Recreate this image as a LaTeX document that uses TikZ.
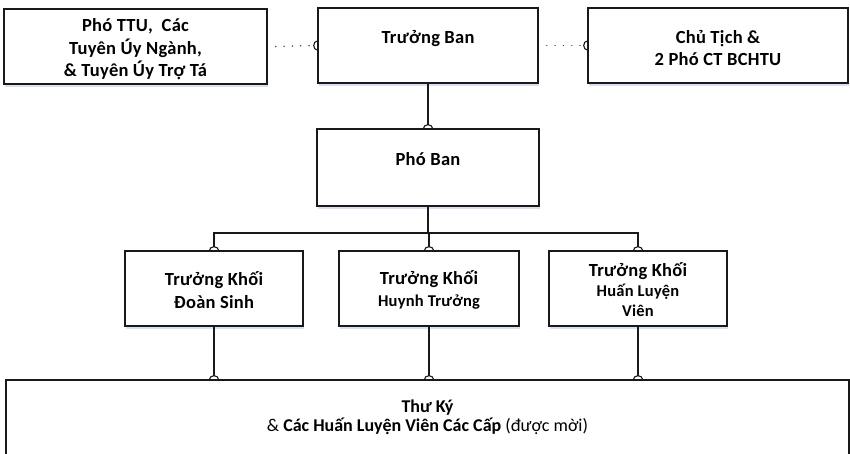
\documentclass[tikz,border=0pt]{standalone}
\usepackage{fontspec}
\setmainfont{Carlito}
\usetikzlibrary{shadows}
\definecolor{shadowblue}{RGB}{205,218,236}
\definecolor{linecol}{RGB}{25,25,25}
\newcommand\semitop[1]{\draw[tipline] ([xshift=-4.5pt]#1) arc[start angle=180,end angle=0,x radius=4.5pt,y radius=3.5pt];}
\newcommand\semileft[1]{\draw[tipline] ([yshift=-4.5pt]#1) arc[start angle=270,end angle=90,x radius=3.5pt,y radius=4.5pt];}
\newcommand\subline{\fontsize{16.5}{20}\selectfont}
\begin{document}
\begin{tikzpicture}[x=1pt,y=-1pt,
  box/.style={draw=linecol, line width=1.6pt, fill=white, rectangle, inner sep=0pt,
    drop shadow={shadow xshift=0.8pt, shadow yshift=-2.5pt, fill=shadowblue, opacity=0.8}},
  lbl/.style={font=\bfseries\fontsize{18.5}{22.5}\selectfont\addfontfeature{LetterSpace=1.5}, align=center, inner sep=0pt, text=black},
  conn/.style={line width=1.6pt, draw=linecol},
  tipline/.style={line width=1.1pt, draw=linecol},
  dots/.style={line width=1.7pt, draw=black!70, dash pattern=on 0.01pt off 8.3pt, line cap=round}]
\useasboundingbox (0,0) rectangle (850,453);
\clip (0,0) rectangle (850,453);
% boxes
\node[box, minimum width=263pt, minimum height=75pt] (b1) at (135.5,46.5) {};
\node[box, minimum width=220pt, minimum height=75pt] (b2) at (428,45.5) {};
\node[box, minimum width=260pt, minimum height=75pt] (b3) at (718,45.5) {};
\node[box, minimum width=222pt, minimum height=77pt] (pb) at (428,167.5) {};
\node[box, minimum width=178pt, minimum height=75pt] (k1) at (214,288.5) {};
\node[box, minimum width=180pt, minimum height=75pt] (k2) at (429,288.5) {};
\node[box, minimum width=178pt, minimum height=75pt] (k3) at (638,288.5) {};
\node[box, minimum width=843pt, minimum height=110pt] (bt) at (427.5,435) {};
% texts
\node[lbl] (t1) at (135.5,49.5) {Phó TTU,\ \ Các\\Tuyên Úy Ngành,\\\& Tuyên Úy Trợ Tá};
\node[lbl] (t2) at (428,38.5) {Trưởng Ban};
\node[lbl] (t3) at (718,48) {Chủ Tịch \&\\2 Phó CT BCHTU};
\node[lbl] (tpb) at (428,159) {Phó Ban};
\node[lbl] (tk1) at (214,290) {Trưởng Khối\\Đoàn Sinh};
\node[lbl] (tk2) at (429,290) {Trưởng Khối\\{\subline Huynh Trưởng}};
\node[lbl, font=\bfseries\fontsize{18.5}{20}\selectfont\addfontfeature{LetterSpace=1.5}] (tk3) at (638,289.5) {Trưởng Khối\\{\subline Huấn Luyện}\\{\subline Viên}};
\node[lbl, font=\fontsize{18}{19}\selectfont] (tbt) at (427.5,417) {\textbf{Thư Ký}\\\& \textbf{Các Huấn Luyện Viên Các Cấp} (được mời)};
% dotted links
\draw[dots] ([xshift=8pt]b1.east) -- ([xshift=-4pt]b2.west);
\semileft{b2.west}
\draw[dots] ([xshift=8pt]b2.east) -- ([xshift=-4pt]b3.west);
\semileft{b3.west}
% solid links
\coordinate (bus) at (0,233);
\draw[conn] (b2.south) -- ([yshift=3.5pt]pb.north);
\semitop{pb.north}
\draw[conn] (pb.south) -- (pb.south |- bus);
\draw[conn] ([yshift=3.5pt]k1.north) -- (k1.north |- bus) -- (k3.north |- bus) -- ([yshift=3.5pt]k3.north);
\draw[conn] (k2.north |- bus) -- ([yshift=3.5pt]k2.north);
\semitop{k1.north}
\semitop{k2.north}
\semitop{k3.north}
\coordinate (d1) at (k1.south |- bt.north);
\coordinate (d2) at (k2.south |- bt.north);
\coordinate (d3) at (k3.south |- bt.north);
\draw[conn] (k1.south) -- ([yshift=3.5pt]d1);
\draw[conn] (k2.south) -- ([yshift=3.5pt]d2);
\draw[conn] (k3.south) -- ([yshift=3.5pt]d3);
\semitop{d1}
\semitop{d2}
\semitop{d3}
\end{tikzpicture}
\end{document}
